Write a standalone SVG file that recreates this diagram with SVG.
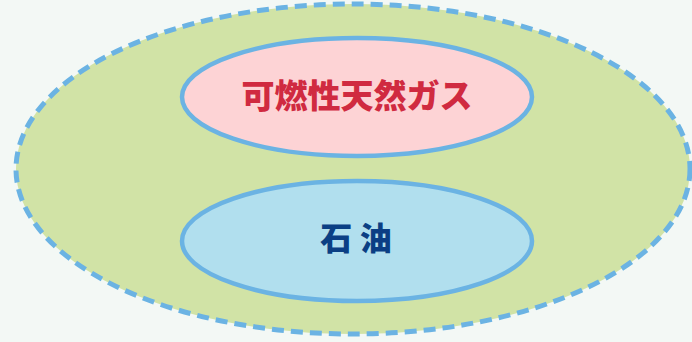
<svg xmlns="http://www.w3.org/2000/svg" width="692" height="342" viewBox="0 0 692 342">
<style>
.inner{stroke:#6bb3e3;stroke-width:4.5}
.lbl{font-family:"Noto Sans CJK JP","Noto Sans CJK SC",sans-serif;font-weight:900;text-anchor:middle}
</style>
<rect width="692" height="342" fill="#f3f8f5"/>
<g id="outer">
<ellipse cx="353" cy="169" rx="337" ry="165" fill="#d1e3a6" stroke="#6bb3e3" stroke-width="5" stroke-dasharray="12 7"/>
</g>
<g id="gas">
<ellipse class="inner" cx="357" cy="97" rx="175" ry="59" fill="#fdd3d5"/>
<text class="lbl" x="357" y="108" font-size="33" fill="#d02a40">可燃性天然ガス</text>
</g>
<g id="oil">
<ellipse class="inner" cx="357" cy="241" rx="175" ry="60" fill="#b1dfee"/>
<text class="lbl" x="356" y="250" font-size="32" fill="#0b3f84">石 油</text>
</g>
<g id="connectors"/>
</svg>
